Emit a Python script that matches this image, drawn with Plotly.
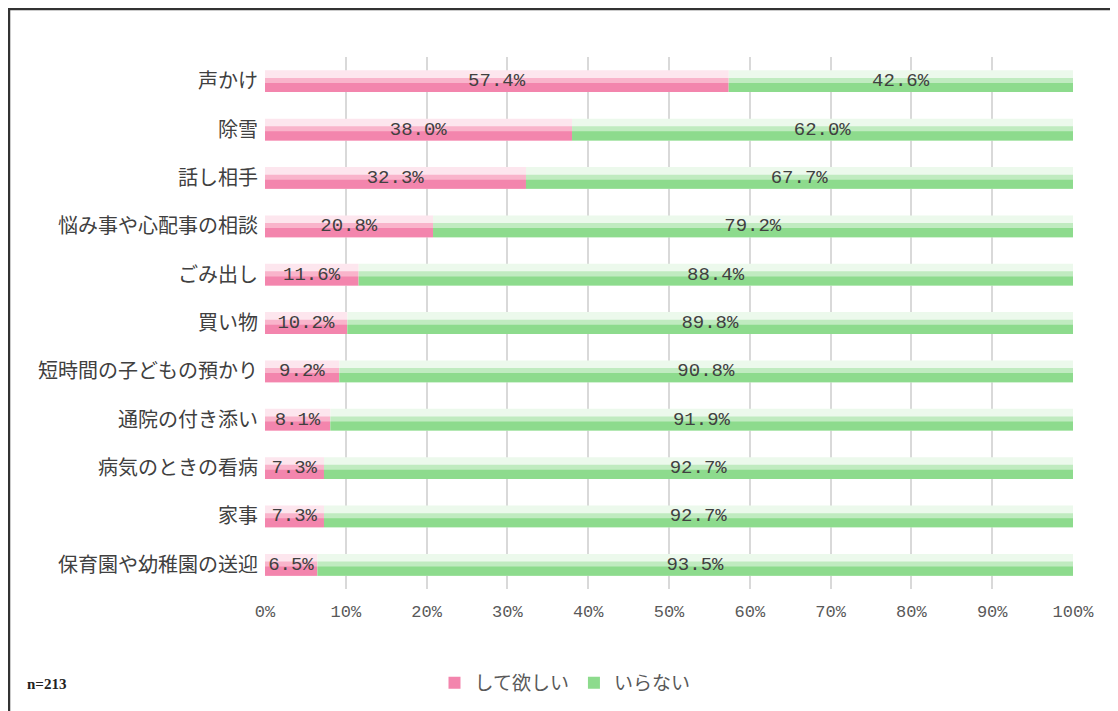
import plotly.graph_objects as go

categories = ["声かけ", "除雪", "話し相手", "悩み事や心配事の相談", "ごみ出し", "買い物",
              "短時間の子どもの預かり", "通院の付き添い", "病気のときの看病", "家事",
              "保育園や幼稚園の送迎"]
want = [57.4, 38.0, 32.3, 20.8, 11.6, 10.2, 9.2, 8.1, 7.3, 7.3, 6.5]
not_need = [42.6, 62.0, 67.7, 79.2, 88.4, 89.8, 90.8, 91.9, 92.7, 92.7, 93.5]
series_names = ["して欲しい", "いらない"]
tick_vals = [0, 10, 20, 30, 40, 50, 60, 70, 80, 90, 100]
tick_text = ["0%", "10%", "20%", "30%", "40%", "50%", "60%", "70%", "80%", "90%", "100%"]

OFF = 8  # page body margin
W, H = 1118 - OFF, 711 - OFF
L, R, T, B = 265 - OFF, 1118 - 1073, 57 - OFF, 711 - 589
pw, ph = W - L - R, H - T - B

def px2x(px):
    return (px - OFF - L) / pw

def px2y(py):
    return (H - B - (py - OFF)) / ph

fig = go.Figure()

series = [
    (series_names[0], want, [0] * len(want), "#fde6ee", "#f9b4cb", "#f385ad"),
    (series_names[1], not_need, want, "#ecf9ec", "#c0ebc0", "#8ddb8d"),
]

BW = 0.45
for name, vals, base, c_light, c_mid, c_dark in series:
    fig.add_trace(go.Bar(y=categories, x=vals, base=base, orientation="h",
                         width=BW, offset=-BW / 2, marker=dict(color=c_light, line=dict(width=0)),
                         showlegend=False, hoverinfo="skip"))
    fig.add_trace(go.Bar(y=categories, x=vals, base=base, orientation="h",
                         width=BW * 0.65, offset=BW / 2 - BW * 0.65, marker=dict(color=c_mid, line=dict(width=0)),
                         showlegend=False, hoverinfo="skip"))
    fig.add_trace(go.Bar(y=categories, x=vals, base=base, orientation="h",
                         width=BW * 0.42, offset=BW / 2 - BW * 0.42, marker=dict(color=c_dark, line=dict(width=0)),
                         name=name, showlegend=True))
    fig.add_trace(go.Bar(y=categories, x=vals, base=base, orientation="h",
                         width=BW, offset=-BW / 2, marker=dict(color="rgba(0,0,0,0)", line=dict(width=0)),
                         text=[f"{v:.1f}%" for v in vals], textposition="inside",
                         insidetextanchor="middle", constraintext="none",
                         textfont=dict(family="Liberation Mono, monospace", size=19, color="#404040"),
                         showlegend=False, hoverinfo="skip"))

fig.update_layout(
    width=W, height=H,
    margin=dict(l=L, r=R, t=T, b=B, autoexpand=False),
    barmode="overlay",
    plot_bgcolor="white", paper_bgcolor="white",
    uniformtext=dict(mode="show", minsize=10),
    font=dict(family="Noto Sans CJK JP", color="#404040"),
    xaxis=dict(range=[0, 100], tickvals=tick_vals, ticktext=tick_text, automargin=False,
               showgrid=True, gridcolor="#d9d9d9", gridwidth=1.5, zeroline=False,
               tickfont=dict(family="Liberation Mono, monospace", size=17, color="#595959"),
               ticks="", ticklabelstandoff=10, showline=False, fixedrange=True),
    yaxis=dict(categoryorder="array", categoryarray=categories, autorange="reversed",
               automargin=False, showgrid=False, tickfont=dict(size=20, color="#404040"),
               ticks="", ticklabelstandoff=6, showline=False),
    legend=dict(orientation="h", x=px2x(565), xanchor="center", y=px2y(683), yanchor="middle",
                font=dict(size=19, color="#595959"), itemwidth=30,
                traceorder="normal"),
    annotations=[dict(text="<b>n=213</b>", x=px2x(25), y=px2y(684), xref="paper", yref="paper",
                      xanchor="left", yanchor="middle", showarrow=False,
                      font=dict(family="Liberation Serif", size=15, color="#222"))],
    shapes=[dict(type="rect", xref="paper", yref="paper",
                 x0=px2x(9), x1=px2x(1115), y0=px2y(725), y1=px2y(9),
                 line=dict(color="#333333", width=2.5), layer="below")],
)

fig.write_html("out.html")
